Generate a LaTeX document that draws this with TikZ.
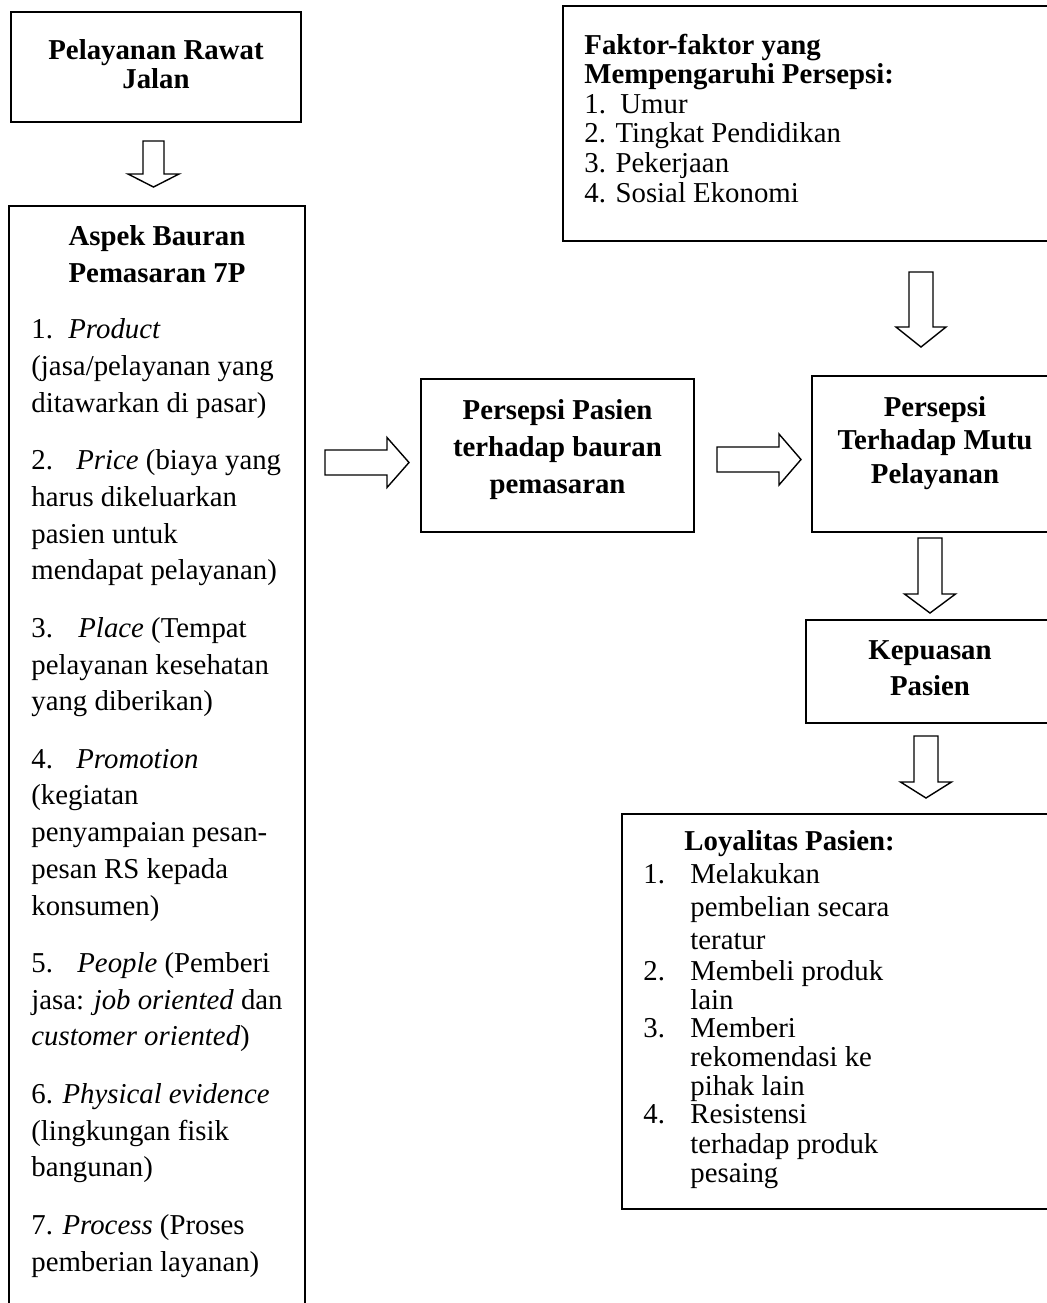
\documentclass[tikz,border=0pt]{standalone}
\usepackage{fontspec}
\setmainfont{Liberation Serif}
\usetikzlibrary{fit}

% hollow block arrow pointing down: centre x, shaft top, head top, tip, shaft half-width, head half-width
\newcommand\downblock[6]{%
  \draw[blk] (#1-#5,#2) -- (#1+#5,#2) -- (#1+#5,#3) -- (#1+#6,#3) -- (#1,#4)
    -- (#1-#6,#3) -- (#1-#5,#3) -- cycle;}
% hollow block arrow pointing right: shaft left, centre y, head base, tip, shaft half-width, head half-width
\newcommand\rightblock[6]{%
  \draw[blk] (#1,#2-#5) -- (#3,#2-#5) -- (#3,#2-#6) -- (#4,#2) -- (#3,#2+#6)
    -- (#3,#2+#5) -- (#1,#2+#5) -- cycle;}

\begin{document}
\begin{tikzpicture}[x=0.5pt,y=-0.5pt,
  box/.style={draw,line width=1pt,inner sep=0pt},
  blk/.style={draw,line width=0.7pt,fill=white,line join=miter},
  txt/.style={inner sep=0pt},
  % multi-line texts are placed by the baseline of their last line
  ttl/.style={txt,align=center,anchor=base},
  lst/.style={txt,align=left,anchor=base west}]

\useasboundingbox (0,0) rectangle (1047,1303);
\fill[white] (0,0) rectangle (1047,1303);
\clip (0,0) rectangle (1047,1303);

% ---- boxes ----
\node[box,fit={(11,12) (301,122)}] (rawat) {};
\node[box,fit={(9,206) (305,1330)}] (aspek) {};
\node[box,fit={(563,6) (1062,241)}] (faktor) {};
\node[box,fit={(421,379) (694,532)}] (persepsi) {};
\node[box,fit={(812,376) (1058,532)}] (mutu) {};
\node[box,fit={(806,620) (1054,723)}] (kepuasan) {};
\node[box,fit={(622,814) (1062,1209)}] (loyal) {};

% ---- texts ----
\node[ttl,font=\fontsize{14.4}{14.5}\selectfont\bfseries] (rawatT) at (156,88)
  {Pelayanan Rawat\\Jalan};

\node[ttl,font=\fontsize{14.4}{18.5}\selectfont\bfseries] (aspekT) at (157,282)
  {Aspek Bauran\\Pemasaran 7P};

\node[lst,font=\fontsize{14.4}{18.35}\selectfont] (aspekL) at (31,1271)
  {\makebox[18.5pt][l]{1.}\textit{Product}\\
   (jasa/pelayanan yang\\
   ditawarkan di pasar)\\[10.4pt]
   \makebox[22.5pt][l]{2.}\textit{Price} (biaya yang\\
   harus dikeluarkan\\
   pasien untuk\\
   mendapat pelayanan)\\[10.4pt]
   \makebox[23.5pt][l]{3.}\textit{Place} (Tempat\\
   pelayanan kesehatan\\
   yang diberikan)\\[10.4pt]
   \makebox[22.5pt][l]{4.}\textit{Promotion}\\
   (kegiatan\\
   penyampaian pesan-\\
   pesan RS kepada\\
   konsumen)\\[10.4pt]
   \makebox[23pt][l]{5.}\textit{People} (Pemberi\\
   jasa: \textit{job oriented} dan\\
   \textit{customer oriented})\\[10.4pt]
   6. \textit{Physical evidence}\\
   (lingkungan fisik\\
   bangunan)\\[10.4pt]
   7. \textit{Process} (Proses\\
   pemberian layanan)};

\node[lst,font=\fontsize{14.4}{14.8}\selectfont] (faktorT) at (584,202)
  {\textbf{Faktor-faktor yang}\\
   \textbf{Mempengaruhi Persepsi:}\\
   1.\ \ Umur\\
   2. Tingkat Pendidikan\\
   3. Pekerjaan\\
   4. Sosial Ekonomi};

\node[ttl,font=\fontsize{14.4}{18.5}\selectfont\bfseries] (persepsiT) at (557.5,493)
  {Persepsi Pasien\\terhadap bauran\\pemasaran};

\node[ttl,font=\fontsize{14.4}{16.75}\selectfont\bfseries] (mutuT) at (935,483)
  {Persepsi\\Terhadap Mutu\\Pelayanan};

\node[ttl,font=\fontsize{14.4}{18}\selectfont\bfseries] (kepuasanT) at (930,695)
  {Kepuasan\\Pasien};

\node[lst,font=\fontsize{14.4}{14.3}\selectfont] (loyalT) at (643,1182)
  {\hspace*{20.5pt}\textbf{Loyalitas Pasien:}\\[2.2pt]
   \makebox[23.5pt][l]{1.}Melakukan\\[2.2pt]
   \hspace*{23.5pt}pembelian secara\\[2.2pt]
   \hspace*{23.5pt}teratur\\[1.2pt]
   \makebox[23.5pt][l]{2.}Membeli produk\\
   \hspace*{23.5pt}lain\\
   \makebox[23.5pt][l]{3.}Memberi\\
   \hspace*{23.5pt}rekomendasi ke\\
   \hspace*{23.5pt}pihak lain\\
   \makebox[23.5pt][l]{4.}Resistensi\\[0.6pt]
   \hspace*{23.5pt}terhadap produk\\
   \hspace*{23.5pt}pesaing};

% ---- block arrows ----
\downblock{153.5}{141}{174}{187}{10.5}{25.5}   % rawat -> aspek
\downblock{921}{272}{327}{347}{12}{25}          % faktor -> mutu
\downblock{930}{538}{594}{613}{12}{25.5}        % mutu -> kepuasan
\downblock{926}{736}{782}{798}{12}{25.5}        % kepuasan -> loyal
\rightblock{325}{462.5}{387}{409}{12.5}{25}     % aspek -> persepsi
\rightblock{717}{459.5}{779}{801}{12.5}{25.5}   % persepsi -> mutu
\end{tikzpicture}
\end{document}
